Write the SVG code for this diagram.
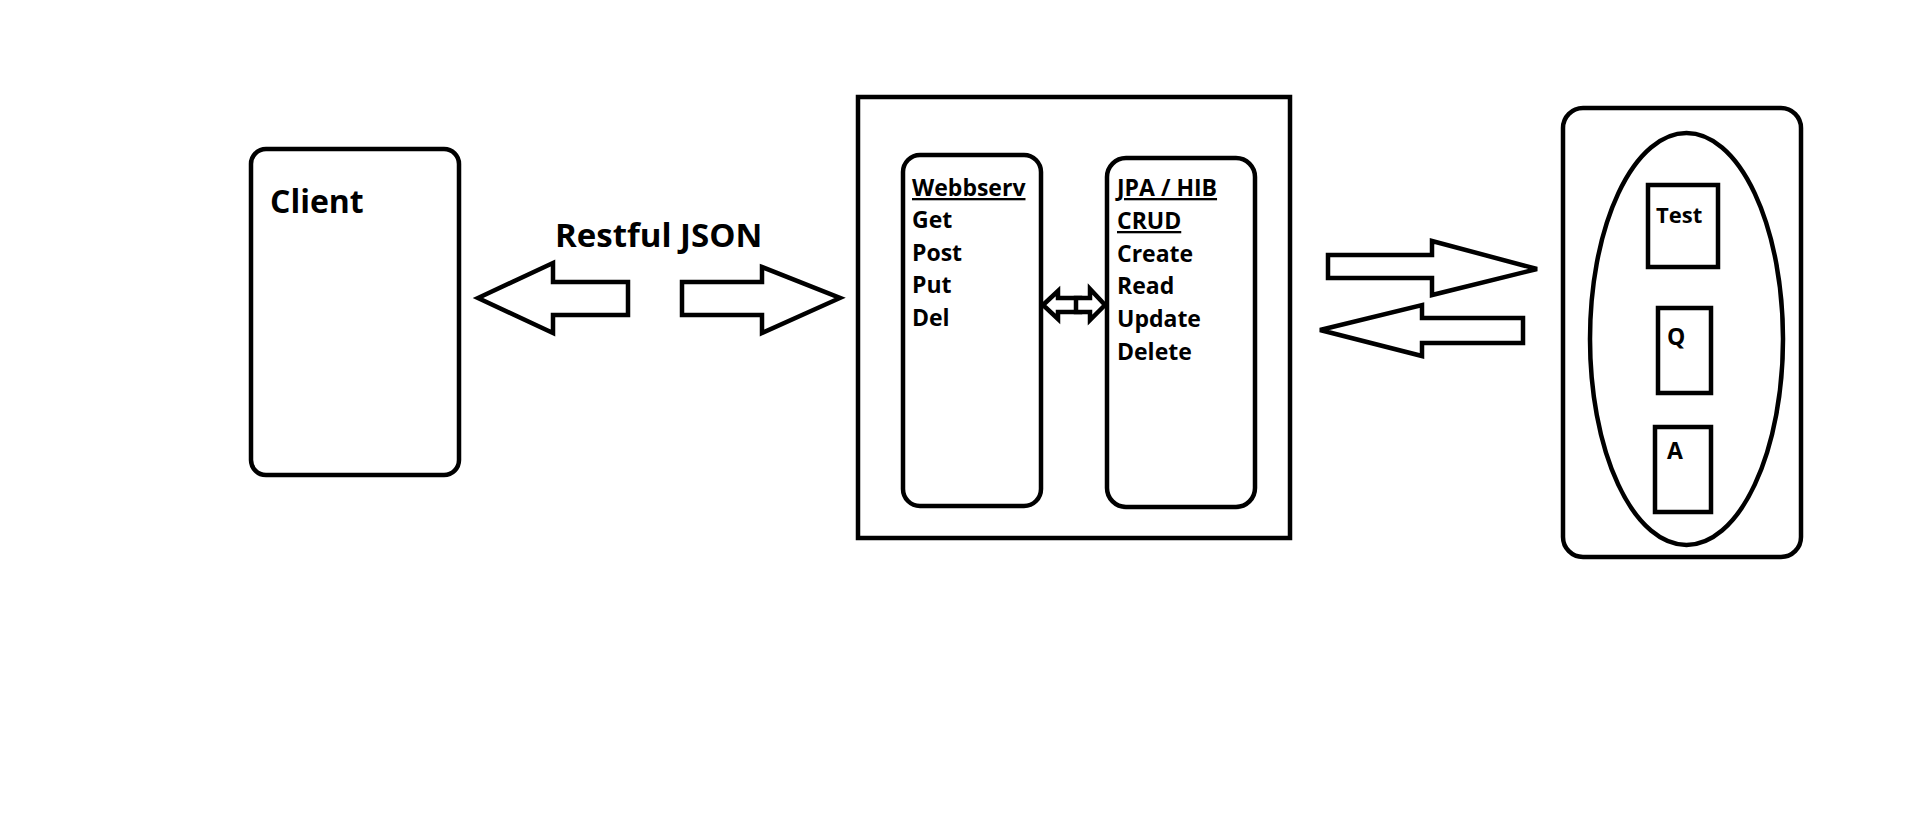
<svg xmlns="http://www.w3.org/2000/svg" width="1914" height="821" viewBox="0 0 1914 821">
<style>
.box{fill:#fff;stroke:#000;stroke-width:4.5}
.arr{fill:#fff;stroke:#000;stroke-width:4.5;stroke-linejoin:miter}
.t{font-family:"Open Sans","Liberation Sans",sans-serif;font-weight:700;fill:#000}
.u{text-decoration:underline}
</style>
<rect width="1914" height="821" fill="#fff"/>
<g id="client">
<rect class="box" x="251" y="149" width="208" height="326" rx="15"/>
<text class="t" x="270" y="213" font-size="32">Client</text>
</g>
<g id="server">
<rect class="box" x="858" y="97" width="432" height="441"/>
</g>
<g id="webbserv">
<rect class="box" x="903" y="155" width="138" height="351" rx="17"/>
<g class="t" font-size="23">
<text x="912" y="196" class="u">Webbserv</text>
<text x="912" y="228">Get</text>
<text x="912" y="261">Post</text>
<text x="912" y="293">Put</text>
<text x="912" y="326">Del</text>
</g>
</g>
<g id="jpa">
<rect class="box" x="1107" y="158" width="148" height="349" rx="19"/>
<g class="t" font-size="23">
<text x="1117" y="196" class="u">JPA / HIB</text>
<text x="1117" y="229" class="u">CRUD</text>
<text x="1117" y="262">Create</text>
<text x="1117" y="294">Read</text>
<text x="1117" y="327">Update</text>
<text x="1117" y="360">Delete</text>
</g>
</g>
<g id="database">
<rect class="box" x="1563" y="108" width="238" height="449" rx="20"/>
<ellipse class="box" cx="1686.5" cy="339" rx="96.5" ry="206"/>
<rect class="box" x="1648" y="185" width="70" height="82"/>
<rect class="box" x="1658" y="308" width="53" height="85"/>
<rect class="box" x="1655" y="427" width="56" height="85"/>
<g class="t" font-size="22">
<text x="1656" y="223">Test</text>
<text x="1667" y="345" font-size="23">Q</text>
<text x="1667" y="459" font-size="23">A</text>
</g>
</g>
<g id="connectors">
<text class="t" x="555" y="247" font-size="33">Restful JSON</text>
<polygon class="arr" points="478,298 553,263 553,282 628,282 628,315 553,315 553,333"/>
<polygon class="arr" points="682,282 762,282 762,267 840,298 762,333 762,315 682,315"/>
<polygon class="arr" points="1043,305 1058,291 1058,298 1080,298 1080,312 1058,312 1058,319"/>
<polygon class="arr" points="1076,298 1090,298 1090,289 1105,305 1090,320 1090,312 1076,312"/>
<polygon class="arr" points="1328,255 1432,255 1432,241 1537,269 1432,295 1432,278 1328,278"/>
<polygon class="arr" points="1320,330 1422,305 1422,318 1523,318 1523,343 1422,343 1422,356"/>
</g>
</svg>
